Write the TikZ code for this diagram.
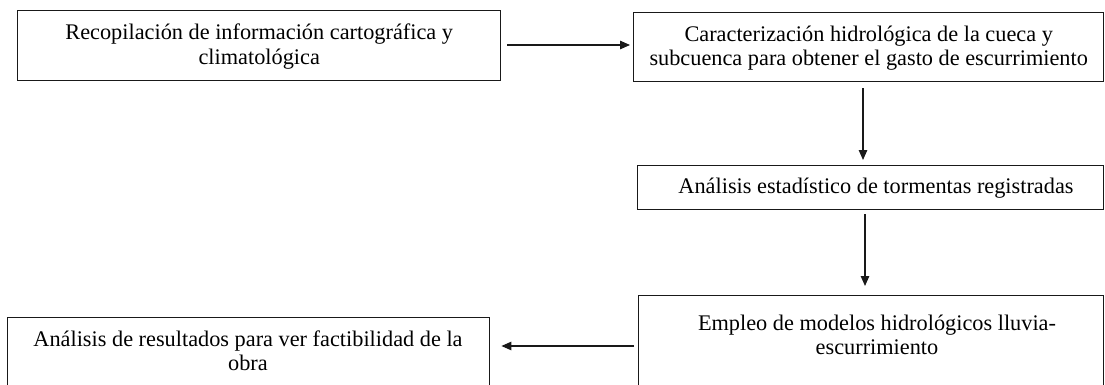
\documentclass[tikz,border=0pt]{standalone}
\usepackage{fontspec}
\setmainfont{Liberation Serif}
\usetikzlibrary{arrows.meta}
\begin{document}
\begin{tikzpicture}[x=1pt,y=-1pt,
  box/.style={draw=black!90, line width=1.4pt, inner sep=0pt, anchor=north west},
  lbl/.style={font=\fontsize{22.3}{24.5}\selectfont, align=center, inner sep=0pt},
  arr/.style={draw=black!90, line width=1.2pt, -{Triangle[length=10pt,width=8.5pt]}}]
\useasboundingbox (0,0) rectangle (1105,385);
\clip (0,0) rectangle (1105,385);
% boxes
\node[box, minimum width=483pt, minimum height=70pt] (b1) at (17,10) {};
\node[box, minimum width=470pt, minimum height=69pt] (b2) at (633,12) {};
\node[box, minimum width=466pt, minimum height=44pt] (b3) at (637,165) {};
\node[box, minimum width=465pt, minimum height=150pt] (b4) at (638,295) {};
\node[box, minimum width=482pt, minimum height=120pt] (b5) at (7,317) {};
% texts
\node[lbl] (t1) at ([yshift=-1pt]b1.center) {Recopilación de información cartográfica y\\climatológica};
\node[lbl] (t2) at ([yshift=-1pt]b2.center) {Caracterización hidrológica de la cueca y\\subcuenca para obtener el gasto de escurrimiento};
\node[lbl] (t3) at (876,188) {Análisis estadístico de tormentas registradas};
\node[lbl] (t4) at (877,335) {Empleo de modelos hidrológicos lluvia-\\escurrimiento};
\node[lbl] (t5) at (248,351) {Análisis de resultados para ver factibilidad de la\\obra};
% connector guides
\coordinate (c1) at (0,45);
\coordinate (c2) at (863,0);
\coordinate (c3) at (865,0);
\coordinate (c4) at (0,346);
% connectors
\draw[arr, shorten <=6pt, shorten >=3pt] (b1.east |- c1) -- (b2.west |- c1);
\draw[arr, shorten <=6pt, shorten >=5pt] (b2.south -| c2) -- (b3.north -| c2);
\draw[arr, shorten <=4pt, shorten >=9pt] (b3.south -| c3) -- (b4.north -| c3);
\draw[arr, shorten <=4pt, shorten >=11pt] (b4.west |- c4) -- (b5.east |- c4);
\end{tikzpicture}
\end{document}
